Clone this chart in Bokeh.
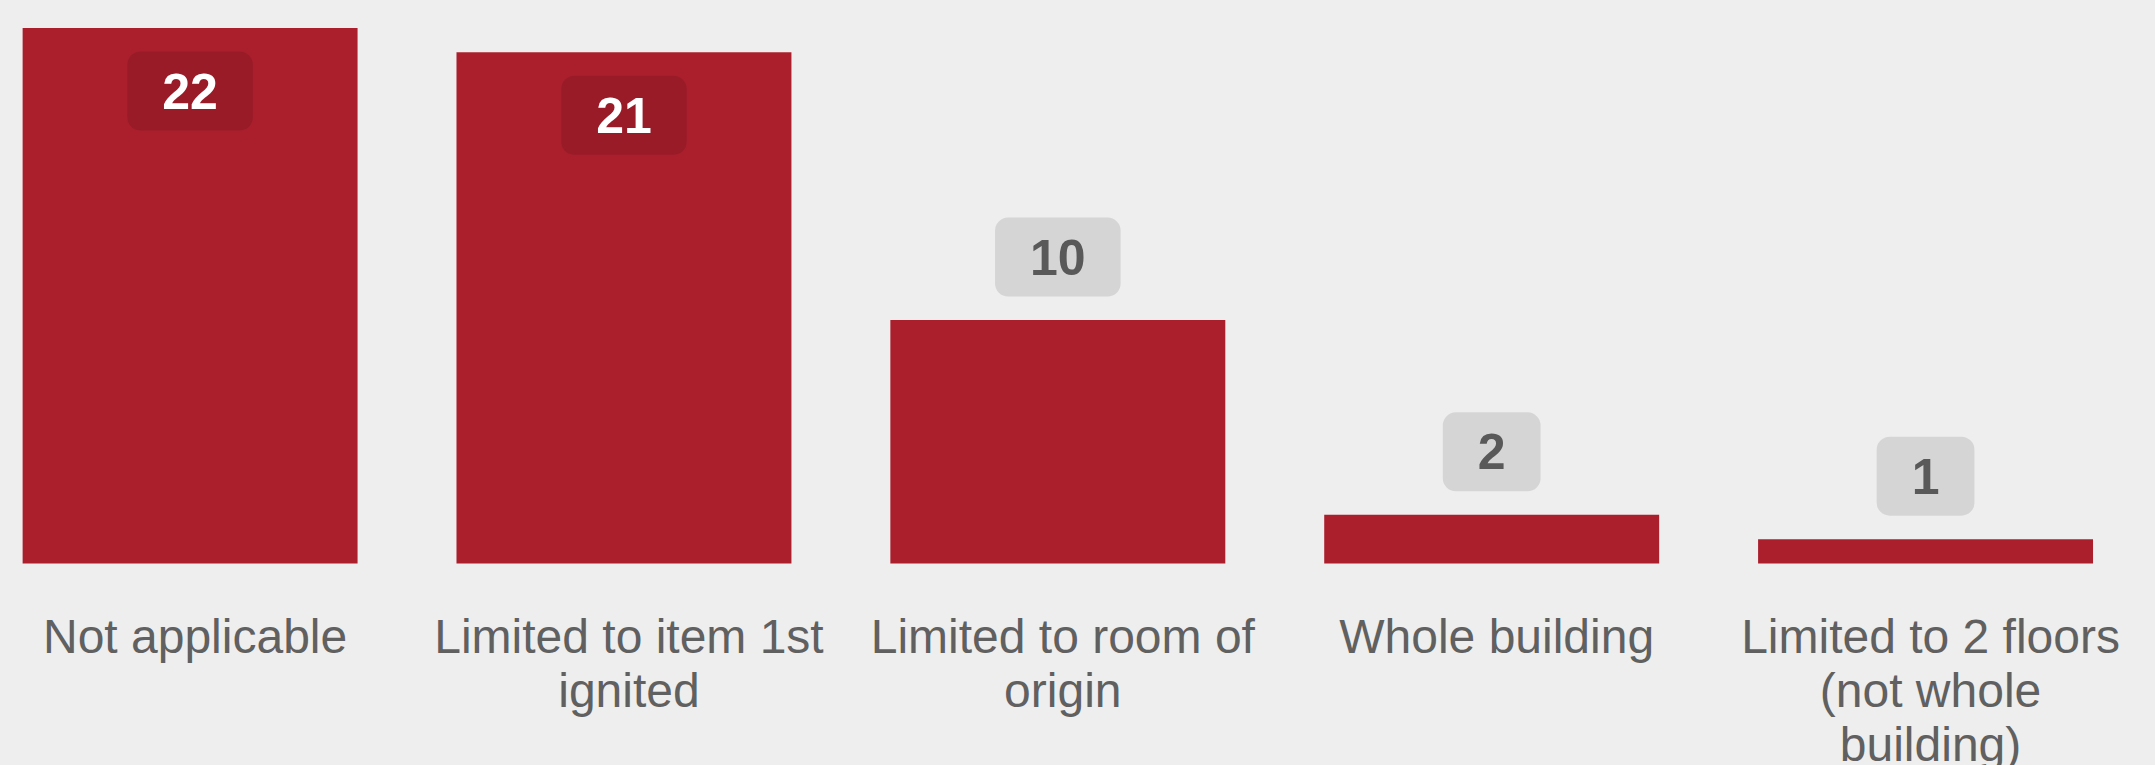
from bokeh.plotting import figure
from bokeh.models import ColumnDataSource, Range1d
from bokeh.core.properties import value
from bokeh.embed import file_html
from bokeh.resources import INLINE

# ---- data ----
categories = ["Not applicable", "Limited to item 1st ignited", "Limited to room of origin",
              "Whole building", "Limited to 2 floors (not whole building)"]
tick_labels = ["Not applicable", "Limited to item 1st\nignited", "Limited to room of\norigin",
               "Whole building", "Limited to 2 floors\n(not whole\nbuilding)"]
counts = [22, 21, 10, 2, 1]

# ---- styling ----
BG = "#eeeeee"
BAR = "#ab1f2d"
FONT = "Liberation Sans"

xs = list(range(len(categories)))
inside = [c >= 15 for c in counts]
src = ColumnDataSource(dict(
    x=xs,
    top=counts,
    label=[str(c) for c in counts],
    color=["#ffffff" if i else "#595959" for i in inside],
    yoff=[63 if i else -63 for i in inside],
))
cat_src = ColumnDataSource(dict(x=xs, y=[0] * len(xs), name=tick_labels))

p = figure(width=2155, height=765, output_backend="svg", toolbar_location=None,
           x_range=Range1d(-0.437, 4.530), y_range=Range1d(-8.299, 23.131),
           min_border=0)
p.background_fill_color = BG
p.border_fill_color = BG
p.outline_line_color = None
p.grid.visible = False
p.axis.visible = False

p.vbar(x="x", top="top", bottom=0, width=0.772, source=src,
       fill_color=BAR, line_color=None)

p.text(x="x", y="top", text="label", source=src, y_offset="yoff",
       text_color="color", text_font=value(FONT), text_font_style="bold",
       text_font_size="50px", text_align="center", text_baseline="middle",
       background_fill_color="black", background_fill_alpha=0.1,
       padding=(35, 22), border_radius=13)

# category labels (x-axis tick labels)
p.text(x="x", y="y", text="name", source=cat_src, x_offset=5, y_offset=46,
       text_color="#606060", text_font=value(FONT), text_font_size="48px",
       text_align="center", text_baseline="top", text_line_height=1.02)

open("out.html", "w").write(
    file_html(p, INLINE).replace("<head>", "<head><style>body{background:#eeeeee;}</style>", 1))
